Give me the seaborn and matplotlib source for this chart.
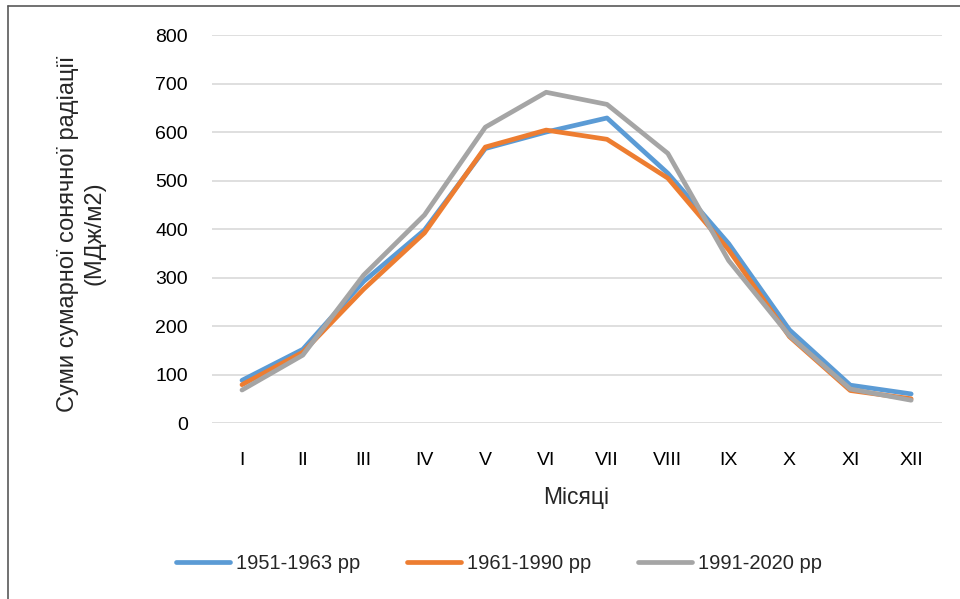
import pandas as pd
import numpy as np
import matplotlib
matplotlib.use("Agg")
import matplotlib.pyplot as plt
from matplotlib.lines import Line2D
import seaborn as sns

months = ["I", "II", "III", "IV", "V", "VI", "VII", "VIII", "IX", "X", "XI", "XII"]
s1951 = [88, 152, 292, 398, 566, 600, 629, 515, 370, 192, 78, 60]
s1961 = [79, 146, 276, 392, 569, 604, 585, 505, 357, 178, 67, 50]
s1991 = [68, 140, 305, 429, 610, 682, 657, 556, 335, 180, 70, 47]
series = ["1951-1963 рр", "1961-1990 рр", "1991-2020 рр"]
colors = ["#5b9bd5", "#ed7d31", "#a5a5a5"]

df = pd.DataFrame({
    "month": months * 3,
    "value": s1951 + s1961 + s1991,
    "period": [series[0]] * 12 + [series[1]] * 12 + [series[2]] * 12,
})

sns.set_style("white")
plt.rcParams["font.family"] = ["Liberation Sans", "DejaVu Sans"]

fig = plt.figure(figsize=(9.6, 5.99), dpi=100)
ax = fig.add_axes([0.2204, 0.2938, 0.7604, 0.6477])

sns.lineplot(data=df, x="month", y="value", hue="period", palette=colors,
             sort=False, linewidth=3.4, ax=ax, legend=False)

ax.set_xlim(-0.5, 11.5)
ax.set_ylim(0, 800)
ax.set_yticks(range(0, 801, 100))
ax.yaxis.grid(True, color="#d9d9d9", linewidth=1.2)
ax.xaxis.grid(False)
ax.set_axisbelow(True)
for sp in ax.spines.values():
    sp.set_visible(False)
ax.tick_params(axis="both", length=0, labelsize=14, colors="#000000")
ax.tick_params(axis="y", pad=17)
ax.tick_params(axis="x", pad=21)
ax.set_xlabel("Місяці", fontsize=16.5, labelpad=12)
ax.set_ylabel("")
fig.text(0.085, 0.61, "Суми сумарної сонячної радіації\n(МДж/м2)",
         rotation=90, ha="center", va="center", fontsize=17,
         multialignment="center", linespacing=1.25)

handles = [Line2D([0], [0], color=c, linewidth=3.4) for c in colors]
fig.legend(handles, series, loc="center", bbox_to_anchor=(0.52, 0.06),
           ncol=3, frameon=False, fontsize=14.5, handlelength=2.7,
           handletextpad=0.3, columnspacing=2.3)

# outer frame (top and left edges visible)
fig.add_artist(Line2D([8 / 960, 1], [1 - 6 / 599, 1 - 6 / 599],
                      transform=fig.transFigure, color="#595959", linewidth=1.2))
fig.add_artist(Line2D([8 / 960, 8 / 960], [0, 1 - 6 / 599],
                      transform=fig.transFigure, color="#595959", linewidth=1.2))

fig.savefig("out.png", dpi=100)
